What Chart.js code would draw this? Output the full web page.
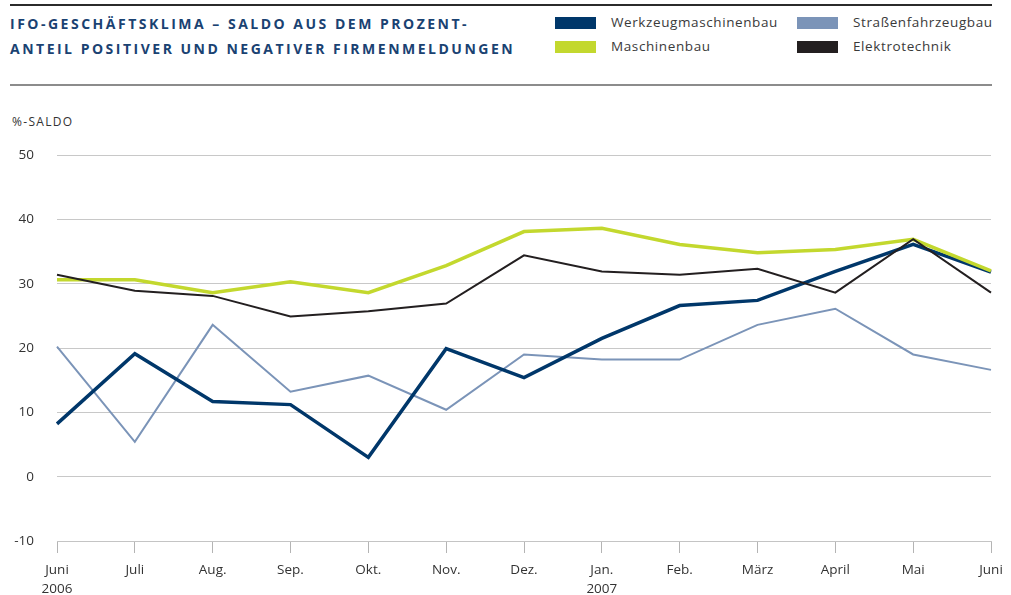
<!DOCTYPE html>
<html>
<head>
<meta charset="utf-8">
<script src="https://cdn.jsdelivr.net/npm/chart.js@4/dist/chart.umd.min.js"></script>
<style>
  body { margin: 0; background: #fff; width: 1011px; height: 595px; position: relative; overflow: hidden; font-family: "Open Sans", sans-serif; }
  .linie-oben { position: absolute; left: 10px; top: 4px; width: 982px; height: 2px; background: #2b2b2b; }
  .linie-mitte { position: absolute; left: 10px; top: 84px; width: 982px; height: 2px; background: #8c8c8c; }
  .titel { position: absolute; left: 10px; top: 11px; font-weight: 700; font-size: 14px; line-height: 25px; letter-spacing: 2.5px; color: #1a4272; }
  .legende { position: absolute; font-size: 13.5px; color: #3a3a3a; letter-spacing: 0.6px; }
  .legende span.kasten { position: absolute; left: 0; top: 4px; width: 41px; height: 12px; }
  .legende span.text { position: absolute; left: 56px; top: 0; white-space: nowrap; }
  .einheit { position: absolute; left: 12px; top: 113px; font-size: 12px; letter-spacing: 1.3px; color: #333; }
  canvas { position: absolute; left: 0; top: 0; }
</style>
</head>
<body>
<div class="linie-oben"></div>
<div class="titel">IFO-GESCHÄFTSKLIMA – SALDO AUS DEM PROZENT-<br>ANTEIL POSITIVER UND NEGATIVER FIRMENMELDUNGEN</div>
<div id="legende"></div>
<div class="linie-mitte"></div>
<div class="einheit">%-SALDO</div>
<canvas id="grafKlima" width="1011" height="595"></canvas>
<script>
const monate = [["Juni", "2006"], "Juli", "Aug.", "Sep.", "Okt.", "Nov.", "Dez.", ["Jan.", "2007"], "Feb.", "März", "April", "Mai", "Juni"];

const werkzeugmaschinenbau = [8.2, 19.1, 11.7, 11.2, 3.0, 19.9, 15.4, 21.5, 26.6, 27.4, 31.9, 36.1, 31.8];
const maschinenbau = [30.6, 30.6, 28.6, 30.3, 28.6, 32.8, 38.1, 38.6, 36.1, 34.8, 35.3, 36.9, 32.0];
const strassenfahrzeugbau = [20.2, 5.4, 23.6, 13.2, 15.7, 10.4, 19.0, 18.2, 18.2, 23.6, 26.1, 19.0, 16.6];
const elektrotechnik = [31.4, 28.9, 28.1, 24.9, 25.7, 26.9, 34.4, 31.9, 31.4, 32.3, 28.6, 36.9, 28.6];

const farben = {
    werkzeug: "#00376a",
    maschinen: "#c3d82e",
    strassen: "#7b94b8",
    elektro: "#231f20"
};

// Legende als HTML, zwei Spalten
const legendeEintraege = [
    { text: "Werkzeugmaschinenbau", farbe: farben.werkzeug, x: 555, y: 13 },
    { text: "Straßenfahrzeugbau", farbe: farben.strassen, x: 797, y: 13 },
    { text: "Maschinenbau", farbe: farben.maschinen, x: 555, y: 37 },
    { text: "Elektrotechnik", farbe: farben.elektro, x: 797, y: 37 }
];
const legende = document.getElementById("legende");
legendeEintraege.forEach(function(e) {
    const div = document.createElement("div");
    div.className = "legende";
    div.style.left = e.x + "px";
    div.style.top = e.y + "px";
    div.innerHTML = '<span class="kasten" style="background:' + e.farbe + '"></span><span class="text">' + e.text + '</span>';
    legende.appendChild(div);
});

const schrift = { family: "'Open Sans', sans-serif", size: 13.5 };

new Chart(document.getElementById("grafKlima").getContext("2d"), {
    type: "line",
    data: {
        labels: monate,
        datasets: [
            { label: "Elektrotechnik", data: elektrotechnik, borderColor: farben.elektro, borderWidth: 2, order: 0 },
            { label: "Maschinenbau", data: maschinenbau, borderColor: farben.maschinen, borderWidth: 3.5, order: 1 },
            { label: "Werkzeugmaschinenbau", data: werkzeugmaschinenbau, borderColor: farben.werkzeug, borderWidth: 3.5, order: 2 },
            { label: "Straßenfahrzeugbau", data: strassenfahrzeugbau, borderColor: farben.strassen, borderWidth: 2, order: 3 }
        ]
    },
    options: {
        responsive: false,
        animation: false,
        elements: { point: { radius: 0 }, line: { tension: 0, borderJoinStyle: "miter" } },
        layout: { padding: { top: 155, right: 20, left: 0, bottom: 0 } },
        plugins: { legend: { display: false }, tooltip: { enabled: false } },
        scales: {
            x: {
                offset: false,
                afterFit: function(s) { s.height = 54; },
                grid: { drawOnChartArea: false, drawTicks: true, tickLength: 12, color: "#b4b4b4" },
                border: { color: "#c4c4c4" },
                ticks: { color: "#333", font: { family: schrift.family, size: 13.5, lineHeight: 1.4 }, padding: 8, maxRotation: 0, autoSkip: false }
            },
            y: {
                min: -10,
                max: 50,
                afterFit: function(s) { s.width = 57; },
                grid: { color: "#c8c8c8", drawTicks: false },
                border: { display: false },
                ticks: { stepSize: 10, color: "#333", font: schrift, padding: 23 }
            }
        }
    }
});
</script>
</body>
</html>
